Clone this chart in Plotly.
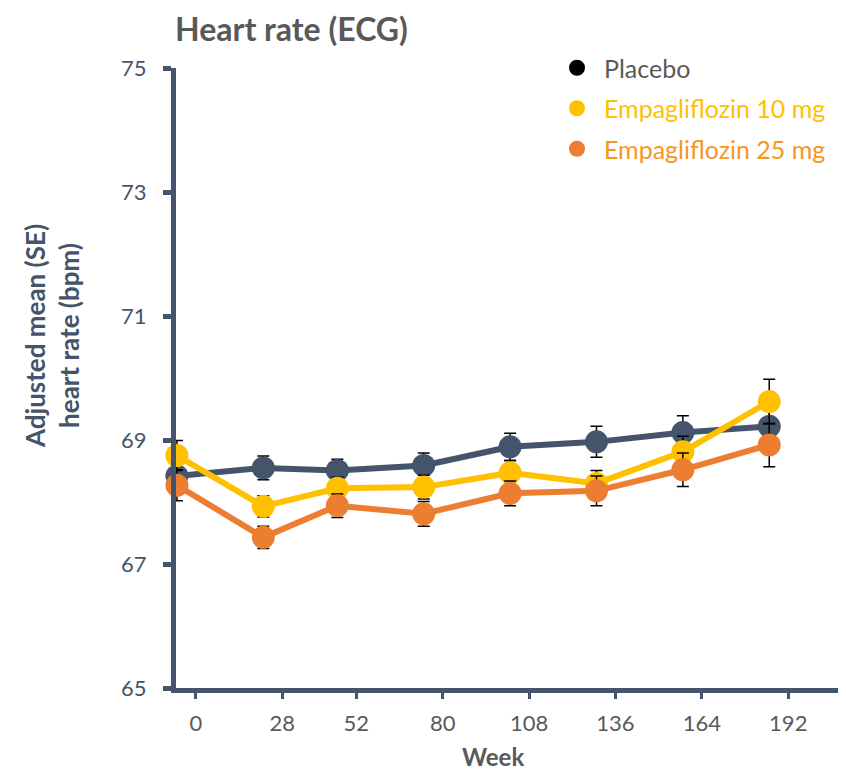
import plotly.graph_objects as go

weeks = [0, 28, 52, 80, 108, 136, 164, 192]
tick_labels = ["0", "28", "52", "80", "108", "136", "164", "192"]

placebo = [68.42, 68.55, 68.51, 68.59, 68.89, 68.97, 69.12, 69.22]
placebo_se = [0.20, 0.19, 0.18, 0.20, 0.22, 0.25, 0.27, 0.30]

empa10 = [68.75, 67.93, 68.22, 68.24, 68.47, 68.30, 68.81, 69.62]
empa10_se = [0.24, 0.17, 0.18, 0.19, 0.20, 0.21, 0.25, 0.36]

empa25 = [68.27, 67.43, 67.94, 67.81, 68.14, 68.18, 68.52, 68.92]
empa25_se = [0.25, 0.18, 0.19, 0.20, 0.20, 0.24, 0.27, 0.35]

series = [
    ("Placebo", placebo, placebo_se, "#44546A", "#000000", "#595959"),
    ("Empagliflozin 10 mg", empa10, empa10_se, "#FFC000", "#FFC000", "#FFC000"),
    ("Empagliflozin 25 mg", empa25, empa25_se, "#ED7D31", "#ED7D31", "#F7961E"),
]

AX = "#44546A"
GRAY = "#595959"
FONT = "Lato, 'Open Sans', sans-serif"
tick_offset = 6.16

# figure is placed by the page at an 8px body margin
W, H = 838, 763
L, R, T, B = 168, 0, 60, 83
pw = W - L - R
ph = H - T - B
px_per_week = 3.085
xmin = -0.3
xmax = xmin + pw / px_per_week

fig = go.Figure()
for name, vals, se, col, legcol, textcol in series:
    fig.add_trace(go.Scatter(
        x=weeks, y=vals, mode="lines+markers",
        line=dict(color=col, width=6),
        marker=dict(color=col, size=23),
        error_y=dict(type="data", array=se, visible=True, color="#000000",
                     thickness=1.5, width=6),
        showlegend=False, cliponaxis=False, hoverinfo="x+y",
    ))
for name, vals, se, col, legcol, textcol in series:
    fig.add_trace(go.Scatter(
        x=[None], y=[None], mode="markers",
        marker=dict(color=legcol, size=22),
        name=f"<span style='color:{textcol}'>{name}</span>",
        legendgroup=name, showlegend=True,
    ))

fig.update_layout(
    width=W, height=H,
    margin=dict(l=L, r=R, t=T, b=B),
    paper_bgcolor="white", plot_bgcolor="white",
    font=dict(family=FONT, color=AX),
    showlegend=True,
    legend=dict(x=(542 - L) / pw, xanchor="left", y=(H - B - 37) / ph, yanchor="top",
                font=dict(size=25, family=FONT), tracegroupgap=5,
                bgcolor="rgba(0,0,0,0)", itemwidth=44),
    xaxis=dict(
        range=[xmin, xmax], showgrid=False, zeroline=False,
        showline=True, linecolor=AX, linewidth=5,
        tickvals=[w + tick_offset for w in weeks], ticktext=tick_labels,
        ticks="outside", ticklen=6, tickwidth=3, tickcolor=AX,
        tickfont=dict(size=22, color=GRAY), ticklabelstandoff=6,
    ),
    yaxis=dict(
        range=[65, 75], showgrid=False, zeroline=False,
        showline=True, linecolor=AX, linewidth=5,
        tickvals=[65, 67, 69, 71, 73, 75],
        ticks="outside", ticklen=8, tickwidth=5, tickcolor=AX,
        tickfont=dict(size=22, color=AX), ticklabelstandoff=12,
    ),
    annotations=[
        dict(text="<b>Heart rate (ECG)</b>", xref="paper", yref="paper",
             x=(165 - L) / pw, y=(H - B - 21) / ph, xanchor="left", yanchor="middle",
             showarrow=False, font=dict(size=32, color=GRAY, family=FONT)),
        dict(text="<b>Week</b>", xref="paper", yref="paper",
             x=(485 - L) / pw, y=-(748 - (H - B)) / ph, xanchor="center", yanchor="middle",
             showarrow=False, font=dict(size=24, color=GRAY, family=FONT)),
        dict(text="<b>Adjusted mean (SE)<br>heart rate (bpm)</b>", xref="paper", yref="paper",
             x=(44 - L) / pw, y=(H - B - 328) / ph, xanchor="center", yanchor="middle",
             textangle=-90, showarrow=False,
             font=dict(size=26, color=AX, family=FONT)),
    ],
)

fig.write_html("out.html")
